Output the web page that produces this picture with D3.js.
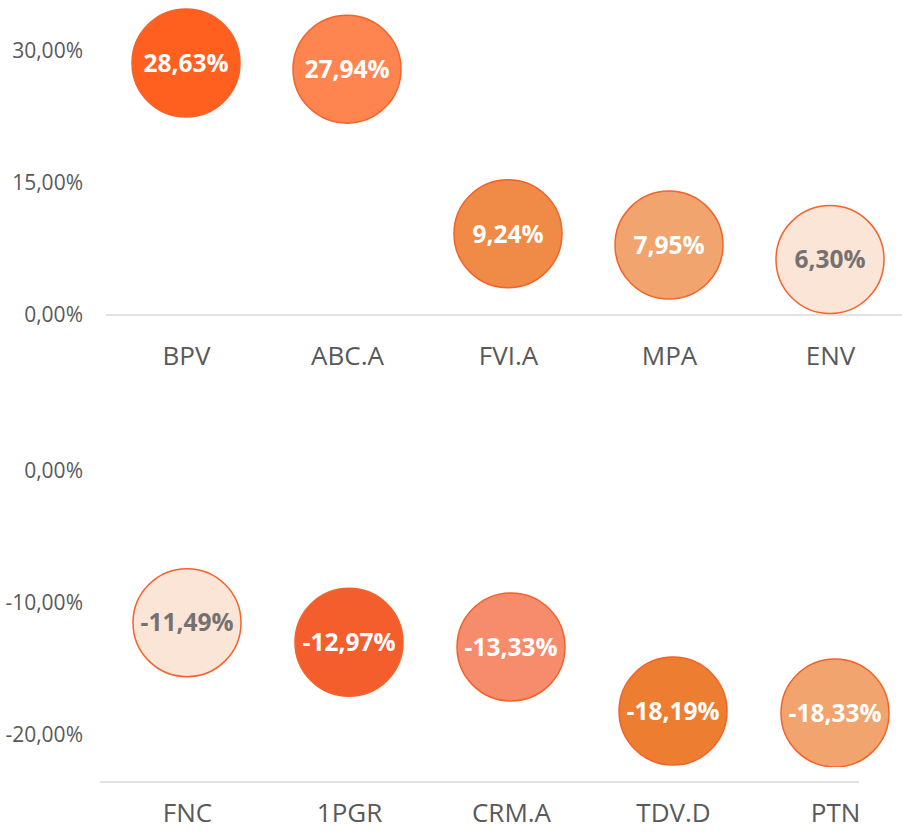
<!DOCTYPE html>
<html>
<head>
<meta charset="utf-8">
<script src="https://cdn.jsdelivr.net/npm/d3@7"></script>
<style>
  body { margin: 0; background: #fff; }
  svg, svg text { font-family: "Open Sans", "Noto Sans", sans-serif; }
  svg { display: block; }
  .tick text { fill: #595959; }
</style>
</head>
<body>
<div id="chart"></div>
<script>
// data
const topNames = ["BPV", "ABC.A", "FVI.A", "MPA", "ENV"];
const topValues = [28.63, 27.94, 9.24, 7.95, 6.30];
const bottomNames = ["FNC", "1PGR", "CRM.A", "TDV.D", "PTN"];
const bottomValues = [-11.49, -12.97, -13.33, -18.19, -18.33];
const topTicks = [0, 15, 30];
const bottomTicks = [0, -10, -20];

// colours per bubble (fill, label)
const topFill = ["#FF5F1F", "#FF8550", "#EF8A47", "#F2A46F", "#FBE5D6"];
const topText = ["#fff", "#fff", "#fff", "#fff", "#767171"];
const bottomFill = ["#FBE5D6", "#F45E2D", "#F68C6B", "#ED7D31", "#F1A46E"];
const bottomText = ["#767171", "#fff", "#fff", "#fff", "#fff"];

const width = 902, height = 832;
const radius = 54;
const stroke = "#F4622A";

const locale = d3.formatLocale({ decimal: ",", thousands: ".", grouping: [3], currency: ["", "€"], minus: "-" });
const fmt = v => locale.format(".2f")(v) + "%";

const svg = d3.select("#chart")
    .append("svg")
    .attr("width", width)
    .attr("height", height);

function panel(opts) {
    const g = svg.append("g");

    const x = d3.scalePoint()
        .domain(opts.names)
        .range(opts.xRange);
    const y = d3.scaleLinear()
        .domain(opts.yDomain)
        .range(opts.yRange);

    // baseline
    g.append("line")
        .attr("x1", opts.lineX[0]).attr("x2", opts.lineX[1])
        .attr("y1", opts.baseY).attr("y2", opts.baseY)
        .style("stroke", "#d9d9d9")
        .style("stroke-width", 1.5);

    // y axis
    g.append("g")
        .attr("transform", "translate(89,0)")
        .call(d3.axisLeft(y)
            .tickValues(opts.ticks)
            .tickFormat(fmt)
            .tickSize(0)
            .tickPadding(6))
        .call(a => a.select(".domain").remove())
        .selectAll("text")
        .style("font-size", "21px");

    // category axis
    g.append("g")
        .attr("transform", `translate(0,${opts.baseY})`)
        .call(d3.axisBottom(x)
            .tickSize(0)
            .tickPadding(opts.catPad))
        .call(a => a.select(".domain").remove())
        .selectAll("text")
        .style("font-size", "26px");

    const data = opts.names.map((n, i) => ({ name: n, value: opts.values[i], i: i }));

    const clipId = opts.id + "-clip";
    g.append("clipPath").attr("id", clipId)
        .append("rect")
        .attr("x", 0).attr("y", 0)
        .attr("width", width).attr("height", opts.clipBottom);

    const bubbles = g.append("g").attr("clip-path", `url(#${clipId})`);

    bubbles.selectAll("circle")
        .data(data)
        .enter()
        .append("circle")
        .attr("cx", d => x(d.name))
        .attr("cy", d => y(d.value))
        .attr("r", radius)
        .style("fill", d => opts.fill[d.i])
        .style("stroke", stroke)
        .style("stroke-width", 1.5);

    bubbles.selectAll("text")
        .data(data)
        .enter()
        .append("text")
        .attr("x", d => x(d.name))
        .attr("y", d => y(d.value))
        .attr("dy", "0.36em")
        .attr("text-anchor", "middle")
        .style("font-size", "24.5px")
        .style("font-weight", "bold")
        .style("fill", d => opts.text[d.i])
        .text(d => fmt(d.value));
}

panel({
    id: "top",
    names: topNames, values: topValues, ticks: topTicks,
    fill: topFill, text: topText,
    xRange: [186, 830],
    yDomain: [0, 30], yRange: [315, 51],
    baseY: 315, lineX: [106, 902],
    catPad: 32, clipBottom: 400
});

panel({
    id: "bottom",
    names: bottomNames, values: bottomValues, ticks: bottomTicks,
    fill: bottomFill, text: bottomText,
    xRange: [187, 835],
    yDomain: [-20, 0], yRange: [735, 471],
    baseY: 782, lineX: [100, 859],
    catPad: 22, clipBottom: 767
});
</script>
</body>
</html>
